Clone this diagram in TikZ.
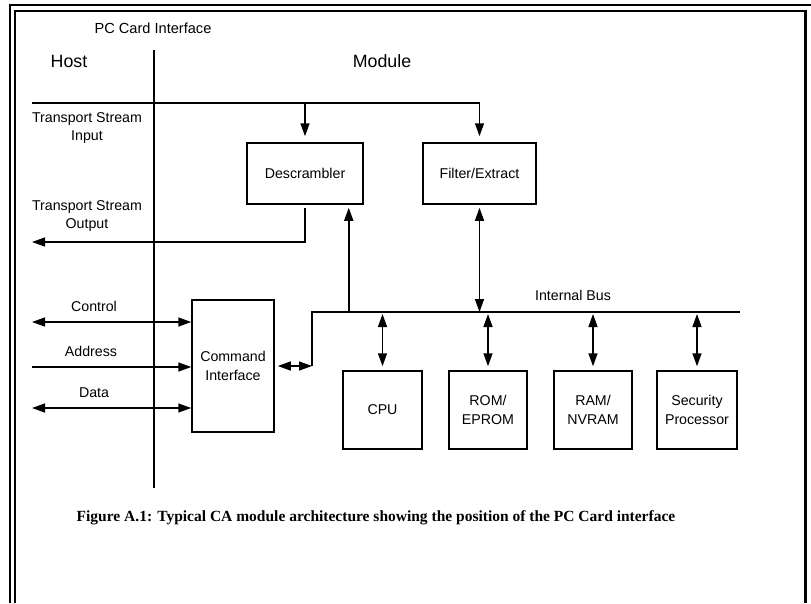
\documentclass[tikz,border=0pt]{standalone}
\usepackage{fontspec}
\setmainfont{Liberation Serif}
\setsansfont{Liberation Sans}
\usetikzlibrary{arrows.meta,calc}

\tikzset{
  blok/.style={draw, line width=1.5pt, inner sep=2pt, align=center,
    font=\sffamily\fontsize{14.2}{19}\selectfont},
  lbl/.style={align=center, font=\sffamily\fontsize{14.2}{18}\selectfont},
  big/.style={font=\sffamily\fontsize{17.8}{20}\selectfont},
  sig/.style={line width=1.5pt},
  tip/.style={-{Triangle[length=13pt,width=9pt]}},
  twoway/.style={{Triangle[length=13pt,width=9pt]}-{Triangle[length=13pt,width=9pt]}},
}

\begin{document}
\begin{tikzpicture}[x=1pt, y=-1pt]

    \useasboundingbox (0,0) rectangle (811,603);

    % --- Cornice ---
    \draw[line width=2.6pt] (10,603) -- (10,5) -- (811,5);
    \draw[line width=2.4pt] (15,603) -- (15,11) -- (805.5,11) -- (805.5,603);

    % --- Titoli e linea di interfaccia ---
    \node[lbl, font=\sffamily\fontsize{14.6}{18}\selectfont] (pcci) at (153,28) {PC Card Interface};
    \node[big] (host) at (69,61) {Host};
    \node[big] (module) at (382,61) {Module};
    \coordinate (ifTop) at (154,50);
    \coordinate (ifBot) at (154,488);
    \draw[sig] (ifTop) -- (ifBot);

    % --- Blocchi ---
    \node[blok, minimum width=116pt, minimum height=61pt] (desc) at (305,173.5) {Descrambler};
    \node[blok, minimum width=113pt, minimum height=61pt] (filt) at (479.5,173.5) {Filter/Extract};
    \node[blok, minimum width=82pt, minimum height=132pt] (cmd) at (233,366) {Command\\Interface};
    \node[blok, minimum width=79pt, minimum height=78pt] (cpu) at (382.5,410) {CPU};
    \node[blok, minimum width=78pt, minimum height=78pt] (rom) at (488,410) {ROM/\\EPROM};
    \node[blok, minimum width=78pt, minimum height=78pt] (ram) at (593,410) {RAM/\\NVRAM};
    \node[blok, minimum width=80pt, minimum height=78pt] (sec) at (697,410) {Security\\Processor};

    % --- Etichette ---
    \node[lbl] (tsInLbl) at (87,128) {Transport Stream\\Input};
    \node[lbl] (tsOutLbl) at (87,216.5) {Transport Stream\\Output};
    \node[lbl] (ctlLbl) at (94,306) {Control};
    \node[lbl] (adrLbl) at (91,351) {Address};
    \node[lbl] (datLbl) at (94,393) {Data};
    \node[lbl] (busLbl) at (573,295) {Internal Bus};

    % --- Estremi liberi ---
    \coordinate (tsIn) at (32,103);
    \coordinate (tsOut) at (32,242);
    \coordinate (ctlL) at (32,322);
    \coordinate (adrL) at (32,367);
    \coordinate (datL) at (32,408);
    \coordinate (busL) at (312,312);
    \coordinate (busR) at (740,312);
    \coordinate (ciJoin) at (312,366);
    \coordinate (descIn) at ($(desc.south east)+(-15,0)$);

    % --- Transport stream ---
    \draw[sig, tip, shorten >=6pt] (tsIn) -| (filt.north);
    \draw[sig, tip, shorten >=6pt] (desc.north |- tsIn) -- (desc.north);
    \draw[sig, tip, shorten <=3pt] (desc.south) |- (tsOut);

    % --- Segnali host ---
    \draw[sig, twoway] (ctlL) -- (cmd.west |- ctlL);
    \draw[sig, tip] (adrL) -- (cmd.west |- adrL);
    \draw[sig, twoway] (datL) -- (cmd.west |- datL);

    % --- Bus interno ---
    \draw[sig] (ciJoin) -- (busL) -- (busR);
    \draw[sig, twoway, shorten <=3pt] (cmd.east) -- (ciJoin);
    \draw[sig, tip, shorten >=3pt] (descIn |- busL) -- (descIn);
    \draw[sig, twoway, shorten <=3pt] (filt.south) -- (filt.south |- busL);
    \foreach \b in {cpu, rom, ram, sec}
        \draw[sig, twoway, shorten <=2pt, shorten >=4pt] (\b.north |- busL) -- (\b.north);

    % --- Didascalia ---
    \node[font=\bfseries\fontsize{15.5}{17}\selectfont] (caption) at (376,518)
        {Figure A.1: Typical CA module architecture showing the position of the PC Card interface};

\end{tikzpicture}
\end{document}
